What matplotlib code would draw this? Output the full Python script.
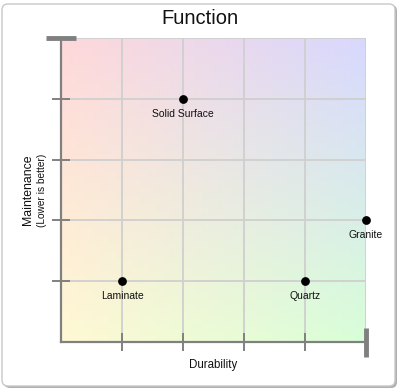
import numpy as np
import matplotlib
matplotlib.use("Agg")
import matplotlib.pyplot as plt
from matplotlib.patches import FancyBboxPatch
from matplotlib.lines import Line2D

plt.rcParams['font.family'] = ['Liberation Sans', 'DejaVu Sans']

# Data
names = ["Solid Surface", "Laminate", "Quartz", "Granite"]
durability = [2, 1, 4, 5]
maintenance = [4, 1, 1, 2]
grid_ticks = [1, 2, 3, 4]

W, H = 400, 389
fig = plt.figure(figsize=(W / 100, H / 100), dpi=100)

# Outer panel with shadow
shadow = FancyBboxPatch((4 / W, 1 / H), 393 / W, 383 / H,
                        boxstyle="round,pad=0,rounding_size=0.015",
                        transform=fig.transFigure, facecolor="#b0b0b0",
                        edgecolor="none", zorder=0)
panel = FancyBboxPatch((2 / W, 3 / H), 393 / W, 382 / H,
                       boxstyle="round,pad=0,rounding_size=0.015",
                       transform=fig.transFigure, facecolor="white",
                       edgecolor="#c8c8c8", linewidth=1, zorder=1)
fig.patches.extend([shadow, panel])

fig.text(0.5, 1 - 18 / H, "Function", ha="center", va="center",
         fontsize=14.5, color="#111111")

ax = fig.add_axes([61 / W, 47 / H, 305 / W, 304 / H])
ax.set_zorder(3)

# Four-corner colour gradient
tl = np.array([255, 216, 218]) / 255
tr = np.array([216, 216, 255]) / 255
bl = np.array([255, 249, 212]) / 255
br = np.array([216, 255, 216]) / 255
n = 200
u = np.linspace(0, 1, n)[None, :, None]
v = np.linspace(0, 1, n)[:, None, None]
img = (1 - v) * ((1 - u) * tl + u * tr) + v * ((1 - u) * bl + u * br)
ax.imshow(img, extent=[0, 5, 0, 5], origin="upper", aspect="auto", zorder=0)

ax.set_xlim(0, 5)
ax.set_ylim(0, 5)
for g in grid_ticks:
    ax.axvline(g, color="#cfcfcf", lw=1.3, zorder=1)
    ax.axhline(g, color="#cfcfcf", lw=1.3, zorder=1)
ax.axhline(5, color="#cfcfcf", lw=1.3, zorder=1)
ax.axvline(5, color="#cfcfcf", lw=1.3, zorder=1)

for s in ["top", "right"]:
    ax.spines[s].set_visible(False)
for s in ["left", "bottom"]:
    ax.spines[s].set_color("#808080")
    ax.spines[s].set_linewidth(1.6)

ax.set_xticks(grid_ticks)
ax.set_yticks(grid_ticks)
ax.set_xticklabels([])
ax.set_yticklabels([])
ax.tick_params(direction="inout", length=13, width=1.4, color="#808080")

# Thick end markers
ax.add_line(Line2D([-0.25, 0.25], [5, 5], color="#808080", lw=3.5,
                   clip_on=False, solid_capstyle="butt"))
ax.add_line(Line2D([5, 5], [-0.25, 0.23], color="#808080", lw=3.5,
                   clip_on=False, solid_capstyle="butt"))

ax.scatter(durability, maintenance, s=28, color="black", zorder=5, clip_on=False)
for name, x, y in zip(names, durability, maintenance):
    ax.annotate(name, (x, y), xytext=(0, -7), textcoords="offset points",
                ha="center", va="top", fontsize=7.5, color="#111111",
                annotation_clip=False)

ax.set_xlabel("Durability", fontsize=8.3, color="#111111", labelpad=2)
fig.text(28 / W, 1 - 190 / H, "Maintenance", rotation=90, ha="center",
         va="center", fontsize=8.8, color="#111111")
fig.text(42 / W, 1 - 190 / H, "(Lower is better)", rotation=90, ha="center",
         va="center", fontsize=7.3, color="#111111")

fig.savefig("out.png", dpi=100)
